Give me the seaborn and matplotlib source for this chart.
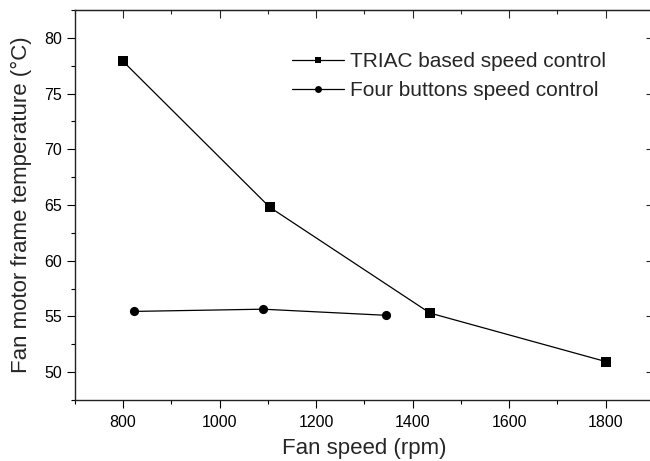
import pandas as pd
import matplotlib.pyplot as plt
from matplotlib.ticker import MultipleLocator
import seaborn as sns

# Daten
triac_speed = [800, 1104, 1436, 1800]
triac_temp = [77.9, 64.8, 55.3, 50.95]
button_speed = [822, 1090, 1345]
button_temp = [55.45, 55.65, 55.1]
series_names = ["TRIAC based speed control", "Four buttons speed control"]

df = pd.concat([
    pd.DataFrame({"speed": triac_speed, "temp": triac_temp, "series": series_names[0]}),
    pd.DataFrame({"speed": button_speed, "temp": button_temp, "series": series_names[1]}),
])

sns.set_style("ticks")
plt.rcParams["font.family"] = ["Liberation Sans", "DejaVu Sans"]

W, H = 650, 461
fig = plt.figure(figsize=(W / 100, H / 100), dpi=100)
ax = fig.add_axes([74.7 / W, (H - 400) / H, (654 - 74.7) / W, (400 - 10) / H])

sns.lineplot(data=df, x="speed", y="temp", hue="series", style="series",
             markers={series_names[0]: "s", series_names[1]: "o"}, dashes=False,
             palette={series_names[0]: "black", series_names[1]: "black"},
             markersize=6.6, linewidth=0.9, markeredgewidth=0, sort=False, ax=ax)

ax.set_xlim(700, 1900)
ax.set_ylim(47.5, 82.5)
ax.xaxis.set_major_locator(MultipleLocator(200))
ax.xaxis.set_minor_locator(MultipleLocator(100))
ax.yaxis.set_major_locator(MultipleLocator(5))
ax.yaxis.set_minor_locator(MultipleLocator(2.5))
ax.tick_params(which="both", direction="out", width=0.8, labelsize=11.5, colors="black")
ax.tick_params(which="major", length=5.5, pad=3.5)
ax.tick_params(axis="x", which="major", pad=5)
ax.tick_params(which="minor", length=3.2)
for s in ax.spines.values():
    s.set_linewidth(1.0)
    s.set_color("#222222")

# Gegenachsen oben/rechts mit Ticks nach innen
top = ax.secondary_xaxis("top")
top.xaxis.set_major_locator(MultipleLocator(200))
top.xaxis.set_minor_locator(MultipleLocator(100))
top.tick_params(which="both", direction="in", labeltop=False, width=0.8)
top.tick_params(which="major", length=5.5)
top.tick_params(which="minor", length=3.2)
right = ax.secondary_yaxis("right")
right.yaxis.set_major_locator(MultipleLocator(5))
right.yaxis.set_minor_locator(MultipleLocator(2.5))
right.tick_params(which="both", direction="in", labelright=False, width=0.8)
right.tick_params(which="major", length=5.5)
right.tick_params(which="minor", length=3.2)

ax.set_xlabel("Fan speed (rpm)", fontsize=16, labelpad=6)
ax.set_ylabel("Fan motor frame temperature (°C)", fontsize=16, labelpad=9)

handles, labels = ax.get_legend_handles_labels()
leg = ax.legend(handles, labels, loc="upper left", bbox_to_anchor=(292 / W, 1 - 52 / H),
                bbox_transform=fig.transFigure, frameon=False, fontsize=15,
                handlelength=2.5, handletextpad=0.3, labelspacing=0.5,
                borderpad=0, borderaxespad=0)
for h in leg.legend_handles:
    h.set_markersize(5)

fig.savefig("out.png", dpi=100)
